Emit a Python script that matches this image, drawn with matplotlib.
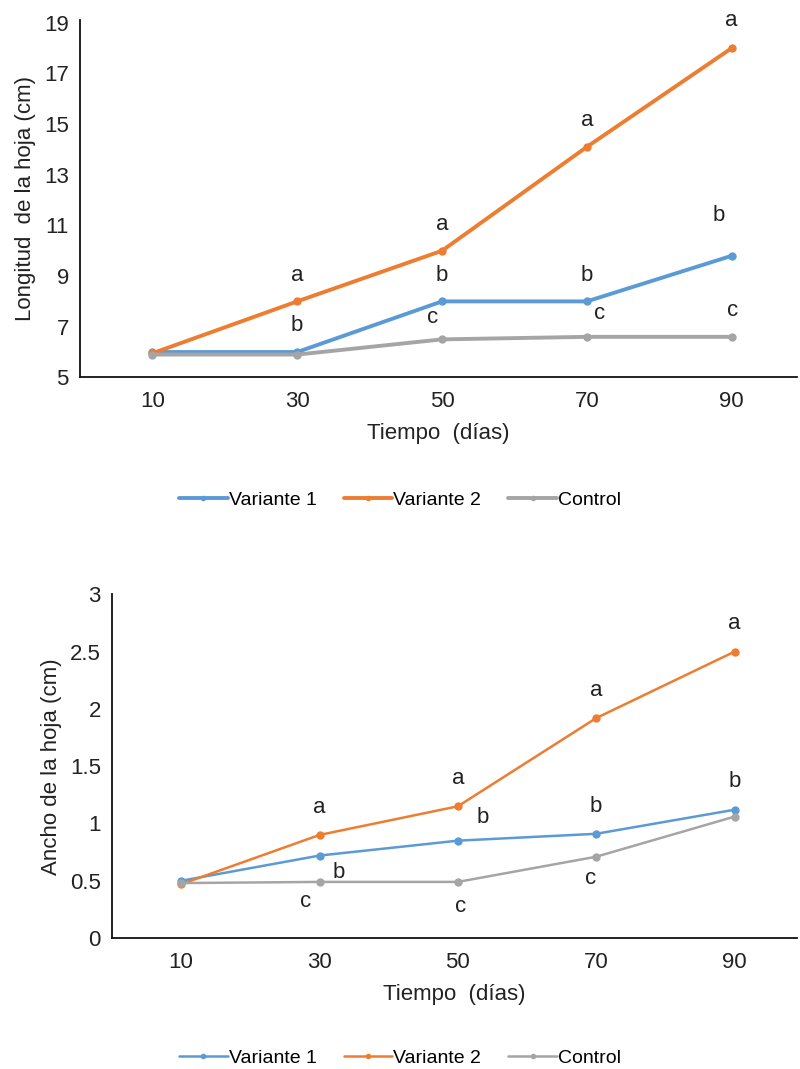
import numpy as np
import matplotlib
matplotlib.use('Agg')
import matplotlib.pyplot as plt

plt.rcParams['font.family'] = ['Liberation Sans', 'DejaVu Sans']

# Data
dias = ['10', '30', '50', '70', '90']
series = ['Variante 1', 'Variante 2', 'Control']

long_v1 = [6.0, 6.0, 8.0, 8.0, 9.8]
long_v2 = [5.95, 8.0, 10.0, 14.1, 18.0]
long_ctrl = [5.9, 5.9, 6.5, 6.6, 6.6]

ancho_v1 = [0.5, 0.72, 0.85, 0.91, 1.12]
ancho_v2 = [0.47, 0.9, 1.15, 1.92, 2.5]
ancho_ctrl = [0.48, 0.49, 0.49, 0.71, 1.06]

# significance letters (None = no label)
long_let_v1 = [None, 'b', 'b', 'b', 'b']
long_let_v2 = [None, 'a', 'a', 'a', 'a']
long_let_ctrl = [None, None, 'c', 'c', 'c']

ancho_let_v1 = [None, 'b', 'b', 'b', 'b']
ancho_let_v2 = [None, 'a', 'a', 'a', 'a']
ancho_let_ctrl = [None, 'c', 'c', 'c', None]

colors = ['#5B9BD5', '#ED7D31', '#A5A5A5']

# label offsets in points (style only)
off_long = [
    [None, (0, 19), (0, 19), (0, 19), (-9, 29)],
    [None, (0, 19), (0, 19), (0, 19), (0, 20)],
    [None, None, (-7, 16), (9, 17), (1, 19)],
]
off_ancho = [
    [None, (14, -12), (18, 17), (0, 20), (0, 20)],
    [None, (0, 20), (0, 20), (0, 20), (0, 20)],
    [None, (-10, -14), (2, -18), (-4, -16), None],
]


def draw(ax, values, letters, offsets, lw, ylim, yticks, ytlabels, ylabel):
    x = np.arange(len(dias))
    for vals, lets, offs, c, name in zip(values, letters, offsets, colors, series):
        ax.plot(x, vals, color=c, lw=lw, marker='o', ms=5, label=name,
                solid_capstyle='round')
        for i in range(len(vals)):
            if lets[i] is not None:
                ax.annotate(lets[i], (x[i], vals[i]), xytext=offs[i],
                            textcoords='offset points', ha='center', va='center',
                            fontsize=16, color='#222222')
    ax.set_xlim(-0.5, 4.45)
    ax.set_ylim(*ylim)
    ax.set_xticks(x)
    ax.set_xticklabels(dias)
    ax.set_yticks(yticks)
    ax.set_yticklabels(ytlabels)
    ax.tick_params(length=0, labelsize=16, colors='#222222', pad=10)
    ax.tick_params(axis='y', pad=8)
    for s in ['top', 'right']:
        ax.spines[s].set_visible(False)
    for s in ['left', 'bottom']:
        ax.spines[s].set_linewidth(1.3)
        ax.spines[s].set_color('#111111')
    ax.set_xlabel('Tiempo  (días)', fontsize=16, color='#222222', labelpad=8)
    ax.set_ylabel(ylabel, fontsize=16, color='#222222', labelpad=6)


def add_legend(ax, ypix):
    ax.legend(loc='center', bbox_to_anchor=(0.5, 1 - ypix / 1069),
              bbox_transform=fig.transFigure, ncol=3, frameon=False, fontsize=14,
              handlelength=2.5, columnspacing=1.4, handletextpad=0.05,
              markerscale=0.6)


fig = plt.figure(figsize=(8, 10.69), dpi=100)

ax1 = fig.add_axes([0.1, 0.647, 0.896, 0.334])
draw(ax1, [long_v1, long_v2, long_ctrl],
     [long_let_v1, long_let_v2, long_let_ctrl], off_long, 2.8,
     (5, 19.1), np.arange(5, 20, 2), [str(v) for v in range(5, 20, 2)],
     'Longitud  de la hoja (cm)')
add_legend(ax1, 500)

ax2 = fig.add_axes([0.14, 0.1225, 0.856, 0.3215])
draw(ax2, [ancho_v1, ancho_v2, ancho_ctrl],
     [ancho_let_v1, ancho_let_v2, ancho_let_ctrl], off_ancho, 1.8,
     (0, 3.0), np.arange(0, 3.01, 0.5), ['0', '0.5', '1', '1.5', '2', '2.5', '3'],
     'Ancho de la hoja (cm)')
add_legend(ax2, 1058)

fig.savefig('out.png', dpi=100)
